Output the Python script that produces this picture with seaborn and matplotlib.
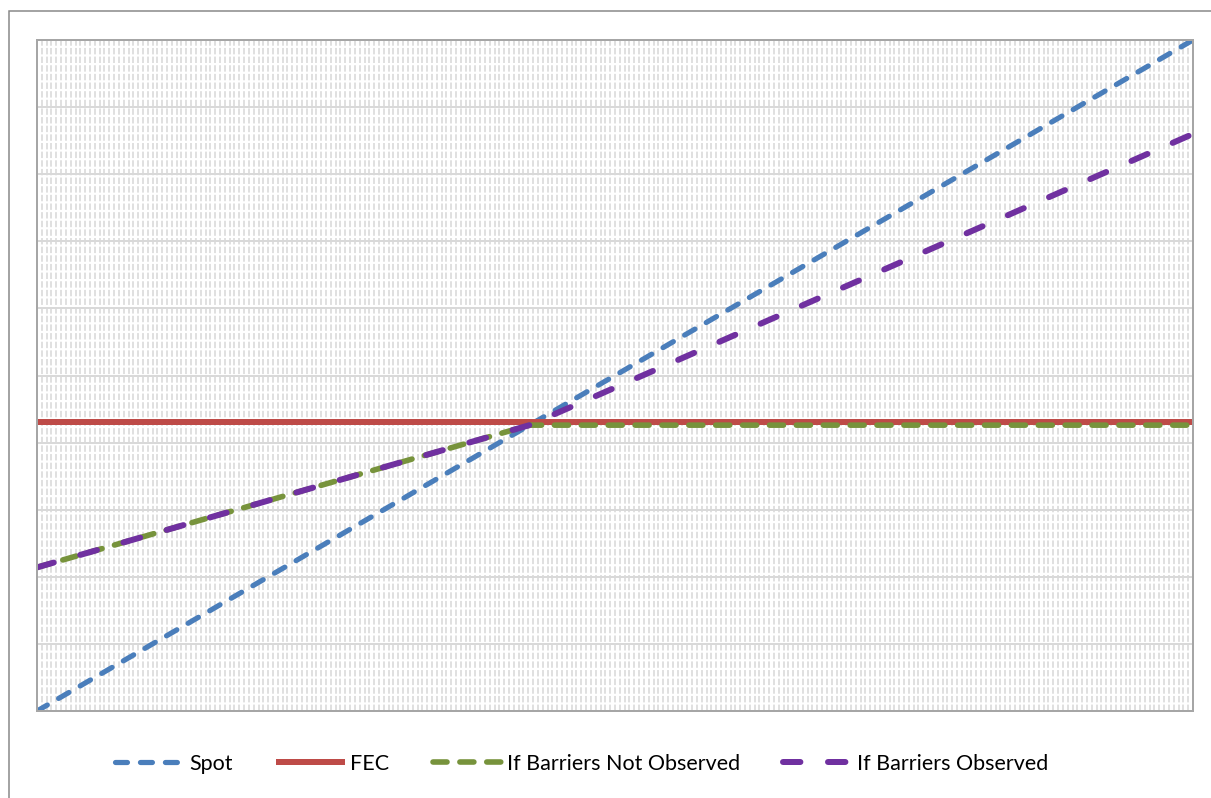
import numpy as np
import pandas as pd
import matplotlib
matplotlib.use("Agg")
import matplotlib.pyplot as plt
from matplotlib.patches import Rectangle
from matplotlib.ticker import FixedLocator
import seaborn as sns

# breakpoints (axis labels are hidden in the original)
rate = [12.00, 14.13, 17.00]
spot = [12.00, 14.13, 17.00]
fec = [14.15, 14.15, 14.15]
not_observed = [13.07, 14.13, 14.13]
observed = [13.07, 14.13, 16.30]

df = pd.DataFrame({"rate": rate, "Spot": spot, "FEC": fec,
                   "If Barriers Not Observed": not_observed,
                   "If Barriers Observed": observed})

sns.set_theme(style="white")
plt.rcParams['font.family'] = ['Lato', 'DejaVu Sans']

W, H = 1211, 798
fig = plt.figure(figsize=(W / 100, H / 100), dpi=100)
ax = fig.add_axes([37 / W, 1 - 711 / H, (1193 - 37) / W, (711 - 40) / H])

px = 0.72  # points per pixel at 100 dpi
styles = {
    "Spot": dict(color="#4a7ebb", linewidth=5.2 * px, linestyle=(0, (2.3, 2.5))),
    "FEC": dict(color="#be4b48", linewidth=6.0 * px, linestyle="-"),
    "If Barriers Not Observed": dict(color="#77933c", linewidth=5.6 * px, linestyle=(0, (2.5, 2.3))),
    "If Barriers Observed": dict(color="#7030a0", linewidth=6.0 * px, linestyle=(0, (2.9, 4.6))),
}
for name, st in styles.items():
    sns.lineplot(data=df, x="rate", y=name, ax=ax, label=name,
                 dash_capstyle="round", solid_capstyle="butt", **st)

ax.set_xlim(12, 17)
ax.set_ylim(12, 17)
ax.set_xticks([])
ax.xaxis.set_minor_locator(FixedLocator(np.linspace(12, 17, 241)))
ax.set_yticks(np.arange(12, 17.01, 0.5))
ax.grid(which="minor", axis="x", color="#d9d9d9", linewidth=1.6 * px, linestyle=(0, (4, 1.4)))
ax.grid(which="major", axis="y", color="#d9d9d9", linewidth=2.0 * px, linestyle="-")
ax.set_axisbelow(True)
ax.tick_params(which="both", length=0, labelleft=False, labelbottom=False)
ax.set_xlabel("")
ax.set_ylabel("")
for sp in ax.spines.values():
    sp.set_color("#a6a6a6")
    sp.set_linewidth(2 * px)

ax.get_legend().remove()
handles, labels = ax.get_legend_handles_labels()
fig.legend(handles, labels, loc="center", bbox_to_anchor=(582 / W, 1 - 764 / H),
           ncol=4, frameon=False, fontsize=15.5, handlelength=3.2,
           handletextpad=0.25, columnspacing=2.0, labelcolor="black")

# outer chart border
fig.patches.append(Rectangle((9 / W, -0.1), 1.2, 1.1 - 11.5 / H, transform=fig.transFigure,
                             fill=False, edgecolor="#878787", linewidth=1.5 * px))

fig.savefig("out.png", dpi=100)
